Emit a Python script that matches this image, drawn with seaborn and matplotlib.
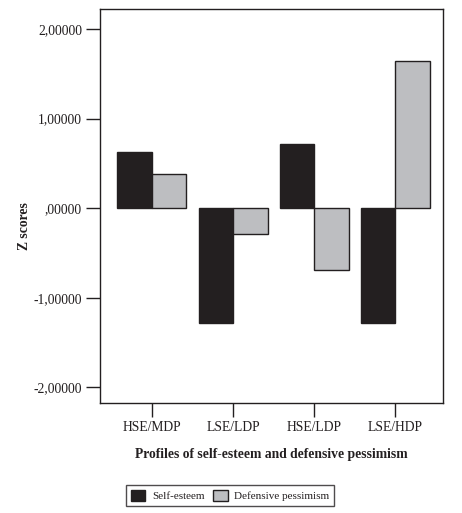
import matplotlib
matplotlib.use("Agg")
import matplotlib.pyplot as plt
from matplotlib.ticker import FuncFormatter
import pandas as pd
import seaborn as sns

profiles = ["HSE/MDP", "LSE/LDP", "HSE/LDP", "LSE/HDP"]
self_esteem = [0.63, -1.28, 0.72, -1.28]
def_pessimism = [0.38, -0.29, -0.69, 1.64]
series_names = ["Self-esteem", "Defensive pessimism"]

df = pd.DataFrame({
    "profile": profiles * 2,
    "z": self_esteem + def_pessimism,
    "series": [series_names[0]] * 4 + [series_names[1]] * 4,
})

sns.set_style("white")
plt.rcParams["font.family"] = ["Liberation Serif", "DejaVu Serif"]

fig = plt.figure(figsize=(4.62, 5.13), dpi=100)
ax = fig.add_axes([0.2165, 0.215, 0.7431, 0.7668])

sns.barplot(data=df, x="profile", y="z", hue="series", order=profiles,
            hue_order=series_names, palette=["#231f20", "#bdbec1"],
            width=0.85, saturation=1, edgecolor="#231f20", linewidth=1,
            ax=ax, legend=True)

ax.set_xlim(-0.64, 3.59)
ax.set_ylim(-2.17, 2.22)
ax.set_yticks([-2, -1, 0, 1, 2])

def z_fmt(v, pos):
    s = "{:.5f}".format(v).replace(".", ",")
    return s.replace("0,", ",", 1) if s.startswith("0,") else s
ax.yaxis.set_major_formatter(FuncFormatter(z_fmt))

for sp in ax.spines.values():
    sp.set_color("#231f20")
    sp.set_linewidth(1)

ax.tick_params(axis="both", direction="out", length=10, width=1, color="#231f20",
               labelsize=9.8, labelcolor="#231f20", pad=3, left=True, bottom=True)

ax.set_xlabel("Profiles of self-esteem and defensive pessimism", fontsize=9.8,
              fontweight="bold", color="#231f20", labelpad=10)
ax.set_ylabel("Z scores", fontsize=9.8, fontweight="bold", color="#231f20")
ax.yaxis.set_label_coords(-0.2, 0.45)

ax.legend_.remove()
handles, labels = ax.get_legend_handles_labels()
leg = fig.legend(handles, labels, loc="center", bbox_to_anchor=(0.498, 0.034),
                 ncol=2, frameon=True, fancybox=False, fontsize=8,
                 handlelength=1.3, handleheight=1.2, columnspacing=0.8,
                 handletextpad=0.6, borderpad=0.45, edgecolor="#231f20")
leg.get_frame().set_linewidth(1)
for t in leg.get_texts():
    t.set_color("#231f20")

fig.savefig("out.png", dpi=100)
